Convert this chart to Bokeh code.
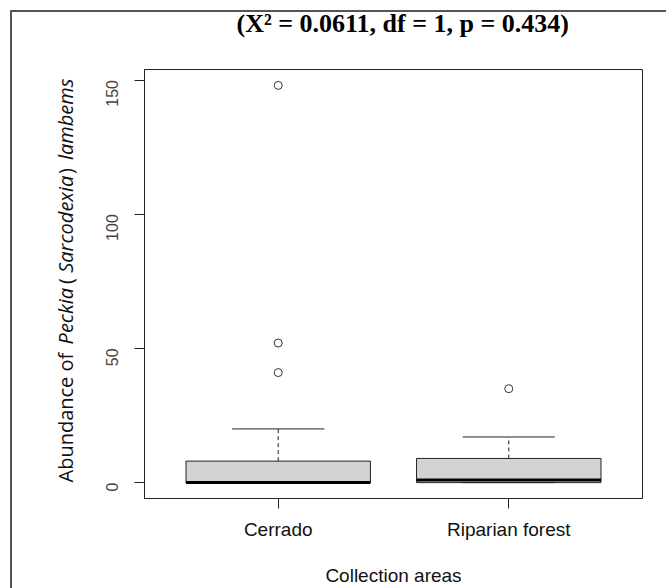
import math
from bokeh.plotting import figure
from bokeh.layouts import row
from bokeh.models import (Range1d, FixedTicker, ColumnDataSource, Title,
                          GlobalInlineStyleSheet)
from bokeh.core.properties import value
from bokeh.embed import file_html
from bokeh.resources import INLINE

# ---------------- data ----------------
categories = ["Cerrado", "Riparian forest"]
lower_whisker = [0, 0]
q1 = [0, 0]
median = [0, 1]
q3 = [8, 9]
upper_whisker = [20, 17]
outliers = [[41, 52, 148], [35]]
y_ticks = [0, 50, 100, 150]
title_text = "(X\u00b2 = 0.0611, df = 1, p = 0.434)"
x_title = "Collection areas"
y_title_parts = [("Abundance of ", "normal"), ("Peckia", "italic"), (" (", "normal"),
                 ("Sarcodexia", "italic"), (") ", "normal"), ("lambems", "italic")]

# ---------------- layout ----------------
LAB_W = 80
FRAME_W, FRAME_H = 498, 429
BL, BR, BT, BB = 64, 24, 69, 90
X0, X1 = 0.42, 2.58
Y0, Y1 = -5.92, 153.92

xpos = [i + 1 for i in range(len(categories))]
src = ColumnDataSource(dict(x=xpos, lw=lower_whisker, q1=q1, med=median, q3=q3, uw=upper_whisker))
ox, oy = [], []
for i, vals in enumerate(outliers):
    for v in vals:
        ox.append(xpos[i])
        oy.append(v)

p = figure(frame_width=FRAME_W, frame_height=FRAME_H,
           x_range=Range1d(X0, X1), y_range=Range1d(Y0, Y1),
           output_backend="svg", toolbar_location=None,
           min_border_left=BL, min_border_right=BR, min_border_top=BT, min_border_bottom=BB)
p.background_fill_color = "white"
p.border_fill_color = "white"
p.outline_line_color = "#222"
p.outline_line_width = 1
p.xgrid.visible = False
p.ygrid.visible = False

# spacer between frame and title, then the title itself
p.add_layout(Title(text=" ", text_font_size="8px", standoff=16), "above")
p.title.text = title_text
p.title.align = "left"
p.title.offset = 92
p.title.text_font = "Liberation Serif"
p.title.text_font_style = "bold"
p.title.text_font_size = "26px"
p.title.text_color = "black"

# y axis
ya = p.yaxis[0]
ya.ticker = FixedTicker(ticks=y_ticks)
ya.major_tick_out = 10
ya.major_tick_in = 0
ya.minor_tick_out = 0
ya.minor_tick_in = 0
ya.major_label_orientation = math.pi / 2
ya.major_label_text_font = "Liberation Sans"
ya.major_label_text_font_size = "16px"
ya.major_label_text_color = "#444"
ya.major_label_standoff = 22
ya.axis_line_color = "#222"
ya.major_tick_line_color = "#222"

# x axis
xa = p.xaxis[0]
xa.ticker = FixedTicker(ticks=xpos)
xa.major_label_overrides = {xpos[i]: c for i, c in enumerate(categories)}
xa.major_tick_out = 10
xa.major_tick_in = 0
xa.minor_tick_out = 0
xa.minor_tick_in = 0
xa.major_label_text_font = "Liberation Sans"
xa.major_label_text_font_size = "19px"
xa.major_label_text_color = "#111"
xa.major_label_standoff = 10
xa.axis_line_color = "#222"
xa.major_tick_line_color = "#222"
xa.axis_label = x_title
xa.axis_label_text_font = "Liberation Sans"
xa.axis_label_text_font_style = "normal"
xa.axis_label_text_font_size = "19px"
xa.axis_label_text_color = "#111"
xa.axis_label_standoff = 22

# boxes
cap_half = 0.2
src.data["xl"] = [x - cap_half for x in xpos]
src.data["xr"] = [x + cap_half for x in xpos]
src.data["bl"] = [x - 0.4 for x in xpos]
src.data["br"] = [x + 0.4 for x in xpos]
p.vbar(x="x", width=0.8, bottom="q1", top="q3", source=src,
       fill_color="#d3d3d3", line_color="#222", line_width=1)
p.segment(x0="x", x1="x", y0="q3", y1="uw", source=src, line_color="#222",
          line_dash="4 3", line_width=1)
p.segment(x0="x", x1="x", y0="lw", y1="q1", source=src, line_color="#222",
          line_dash="4 3", line_width=1)
p.segment(x0="xl", x1="xr", y0="uw", y1="uw", source=src, line_color="#222", line_width=1)
p.segment(x0="xl", x1="xr", y0="lw", y1="lw", source=src, line_color="#222", line_width=1)
p.segment(x0="bl", x1="br", y0="med", y1="med", source=src, line_color="black", line_width=3)
p.scatter(ox, oy, marker="circle", size=8, fill_color=None, line_color="#333", line_width=1)

# y-axis title (mixed upright / italic) in a narrow strip whose frame lines up with p's frame
lab = figure(width=LAB_W, height=BT + FRAME_H + BB, x_range=Range1d(0, LAB_W),
             y_range=Range1d(0, FRAME_H), output_backend="svg", toolbar_location=None,
             min_border=0, x_axis_type=None, y_axis_type=None)
lab.outline_line_color = None
lab.background_fill_color = "white"
lab.border_fill_color = "white"
FS = 20
w_reg = {"A": .633, "b": .613, "u": .614, "n": .614, "d": .613, "a": .556, "c": .476,
         "e": .561, "o": .604, "f": .344, " ": .26, "(": .297, ")": .297}
w_it = {"P": .576, "e": .515, "c": .459, "k": .495, "i": .259, "a": .579, "S": .514,
        "r": .396, "o": .569, "d": .581, "x": .488, "l": .259, "m": .905, "b": .581, "s": .431}
SCALE = 1.0
widths = []
for txt, style in y_title_parts:
    table = w_it if style == "italic" else w_reg
    widths.append(sum(table.get(ch, 0.5) for ch in txt) * SCALE * FS)
start_y, end_y = 16, 422          # along the frame height, bottom -> top
gap_after = {0, 1, 4}
extra = max(0.0, (end_y - start_y - sum(widths)) / len(gap_after))
base_x = 65
cum = start_y
for i, (txt, style) in enumerate(y_title_parts):
    lab.text(x=[base_x], y=[cum], text=[txt], angle=math.pi / 2,
             text_font=value("Open Sans"), text_font_style=style,
             text_font_size=f"{FS}px", text_color="#111",
             text_align="left", text_baseline="alphabetic")
    cum += widths[i] + (extra if i in gap_after else 0)

frame_css = ("html, body { overflow: hidden; } "
             "body::before { content: ''; position: fixed; left: 10px; top: 10px; "
             "right: -20px; bottom: -20px; border-left: 2px solid #555; "
             "border-top: 2px solid #555; pointer-events: none; z-index: 1000; }")
layout = row(lab, p, spacing=0, stylesheets=[GlobalInlineStyleSheet(css=frame_css)])

open("out.html", "w").write(file_html(layout, INLINE))
